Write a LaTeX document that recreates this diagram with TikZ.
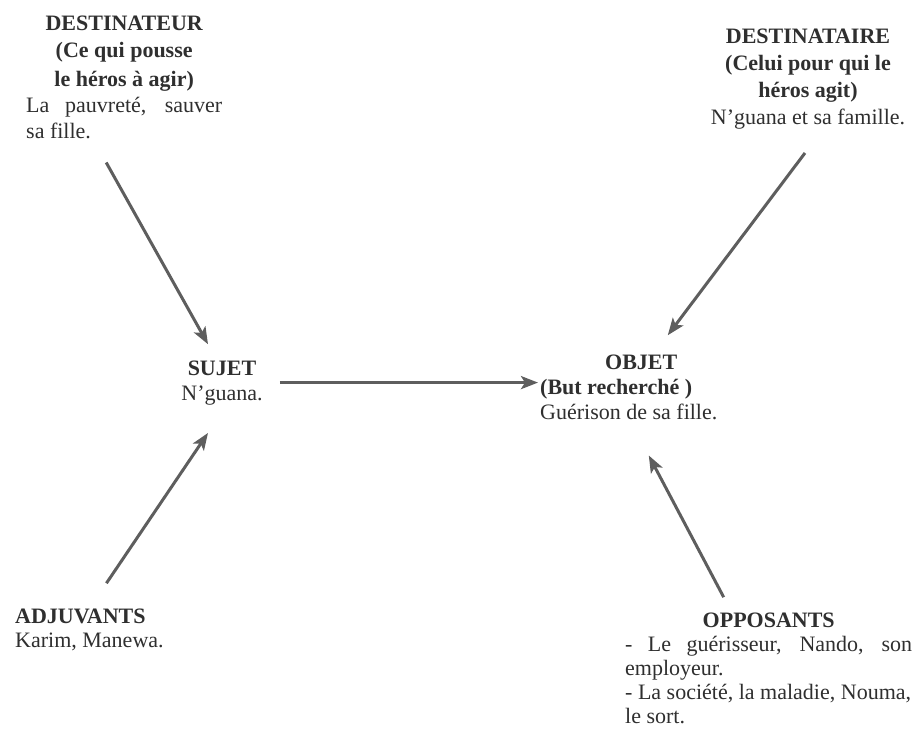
\documentclass[tikz,border=0pt]{standalone}
\usepackage{fontspec}
\setmainfont{Liberation Serif}
\usetikzlibrary{arrows.meta}
\definecolor{encre}{HTML}{2F2F2F}
\definecolor{trait}{HTML}{5E5E5E}
\tikzset{
  actant/.style={inner sep=0pt, text=encre, font=\fontsize{22}{27}\selectfont},
  fleche/.style={draw=trait, line width=3pt, -{Stealth[length=17pt,width=13pt,inset=4pt]}},
}
\begin{document}
\begin{tikzpicture}[x=1pt,y=-1pt]
  \fill[white] (0,0) rectangle (913,736);
  \useasboundingbox (0,0) rectangle (913,736);
  \node[actant, text width=196pt, align=justify, anchor=base west] (destinateur) at (26,30)
    {{\centering\bfseries\fontsize{22}{28}\selectfont DESTINATEUR\\(Ce qui pousse\\le héros à agir)\par}\fontsize{22}{26}\selectfont La pauvreté, sauver\linebreak sa fille.\par};
  \node[actant, align=center, anchor=base] (destinataire) at (808,124)
    {\textbf{DESTINATAIRE}\\\textbf{(Celui pour qui le}\\\textbf{héros agit)}\\N'guana et sa famille.};
  \node[actant, align=center, anchor=base, font=\fontsize{22}{25}\selectfont] (sujet) at (222,400)
    {\textbf{SUJET}\\N'guana.};
  \node[actant, align=left, anchor=base west, font=\fontsize{22}{25}\selectfont] (objet) at (540,419)
    {\hspace*{65pt}\textbf{OBJET}\\\textbf{(But recherché )}\\Guérison de sa fille.};
  \node[actant, align=left, anchor=base west, font=\fontsize{22}{24}\selectfont] (adjuvants) at (15,647)
    {\textbf{ADJUVANTS}\\Karim, Manewa.};
  \node[actant, text width=287pt, align=justify, anchor=base west, font=\fontsize{22}{24}\selectfont] (opposants) at (625,627)
    {{\centering\bfseries OPPOSANTS\par}- Le guérisseur, Nando, son\linebreak employeur.\\\mbox{- La société, la maladie, Nouma,}\\le sort.\par};

  \draw[fleche] ([xshift=-18pt,yshift=-24pt]destinateur.south) -- ([xshift=-14pt,yshift=16pt]sujet.north);
  \draw[fleche] ([xshift=-3pt,yshift=-24pt]destinataire.south) -- ([xshift=39pt,yshift=19pt]objet.north);
  \draw[fleche] ([xshift=17pt]sujet.east) -- ([xshift=-2pt]sujet.east -| objet.west);
  \draw[fleche] ([xshift=17pt,yshift=25pt]adjuvants.north) -- ([xshift=-14pt,yshift=-28pt]sujet.south);
  \draw[fleche] ([xshift=-45pt,yshift=15pt]opposants.north) -- ([xshift=20pt,yshift=-36pt]objet.south);
\end{tikzpicture}
\end{document}
